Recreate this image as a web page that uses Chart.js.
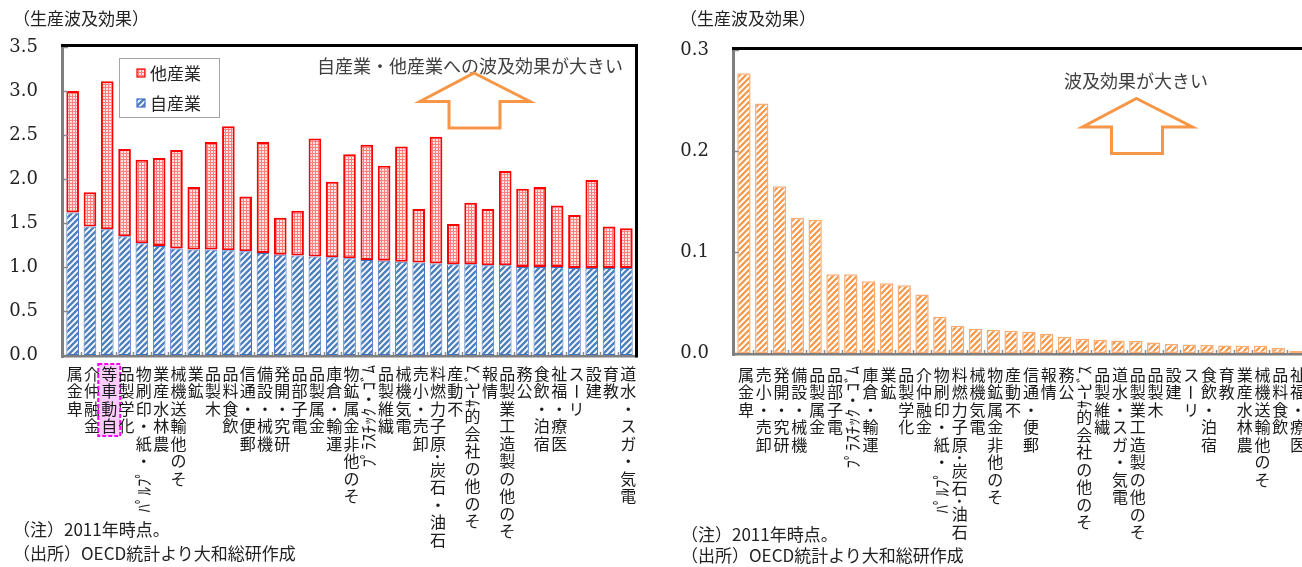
<!DOCTYPE html>
<html lang="ja">
<head>
<meta charset="utf-8">
<title>生産波及効果</title>
<script src="https://cdn.jsdelivr.net/npm/chart.js@4.4.1/dist/chart.umd.min.js"></script>
<style>
html,body{margin:0;padding:0;background:#fff;overflow:hidden;width:1302px;height:567px;}
.panel{position:absolute;top:0;height:567px;}
canvas{display:block;}
.txt{position:absolute;font-family:"Noto Sans CJK JP",sans-serif;font-size:17px;line-height:20px;color:#222;white-space:nowrap;}
</style>
</head>
<body>
<div class="panel" style="left:0;width:655px"><canvas id="cL" width="655" height="567"></canvas></div>
<div class="panel" style="left:662px;width:662px"><canvas id="cR" width="662" height="567"></canvas></div>

<div class="txt" style="left:13px;top:8px">（生産波及効果）</div>
<div class="txt" style="left:680px;top:8px">（生産波及効果）</div>
<div class="txt" style="left:13px;top:519px">（注）2011年時点。</div>
<div class="txt" style="left:13px;top:543px">（出所）OECD統計より大和総研作成</div>
<div class="txt" style="left:681px;top:524px">（注）2011年時点。</div>
<div class="txt" style="left:681px;top:545px">（出所）OECD統計より大和総研作成</div>

<script>
// ---- left panel: production spillover by sector (own industry / other industries) ----
const sectorsL = [
  '卑金属','金融仲介','自動車等','化学製品','ﾊﾟﾙﾌﾟ・紙・印刷物','農林水産業','その他輸送機械',
  '鉱業','木製品','飲食料品','郵便・通信','機械・設備','研究・開発','電子部品','金属製品',
  '運輸・倉庫','その他非金属鉱物','ﾌﾟﾗｽﾁｯｸ・ｺﾞﾑ','繊維製品','電気機械','卸売・小売',
  '石油・石炭･原子力燃料','不動産','その他の社会的ｻｰﾋﾞｽ','情報','その他の製造工業製品','公務',
  '宿泊・飲食','医療・福祉','リース','建設','教育','電気・ガス・水道'
];
const ownEffect = [
  1.62,1.46,1.43,1.35,1.27,1.24,1.21,1.20,1.20,1.19,1.18,1.16,1.14,1.13,1.12,1.11,1.10,
  1.08,1.07,1.06,1.05,1.04,1.03,1.03,1.02,1.02,1.00,1.00,1.00,0.99,0.99,0.99,0.99
];
const otherEffect = [
  1.38,0.39,1.68,0.99,0.95,1.00,1.12,0.71,1.22,1.41,0.62,1.26,0.42,0.51,1.34,0.86,1.18,
  1.31,1.08,1.31,0.61,1.44,0.46,0.70,0.64,1.07,0.89,0.91,0.70,0.60,1.00,0.47,0.45
];
const highlightedSector = '自動車等';

// ---- right panel: spillover onto the automobile industry ----
const sectorsR = [
  '卑金属','卸売・小売','研究・開発','機械・設備','金属製品','電子部品','ﾌﾟﾗｽﾁｯｸ・ｺﾞﾑ',
  '運輸・倉庫','鉱業','化学製品','金融仲介','ﾊﾟﾙﾌﾟ・紙・印刷物','石油･石炭･原子力燃料',
  '電気機械','その他非金属鉱物','不動産','郵便・通信','情報','公務','その他の社会的ｻｰﾋﾞｽ',
  '繊維製品','電気・ガス・水道','その他の製造工業製品','木製品','建設','リース','宿泊・飲食',
  '教育','農林水産業','その他輸送機械','飲食料品','医療・福祉'
];
const autoEffect = [
  0.277,0.247,0.165,0.134,0.132,0.078,0.078,0.071,0.069,0.067,0.058,0.036,0.027,0.024,
  0.023,0.022,0.021,0.019,0.016,0.014,0.013,0.0125,0.012,0.0105,0.009,0.0085,0.008,
  0.0075,0.0073,0.0072,0.005,0.002
];

const JP = '"Noto Sans CJK JP", sans-serif';

// fill patterns
function hatch(bg, fg, size, lw) {
  const c = document.createElement('canvas'); c.width = c.height = size;
  const g = c.getContext('2d');
  g.fillStyle = bg; g.fillRect(0, 0, size, size);
  g.strokeStyle = fg; g.lineWidth = lw; g.beginPath();
  g.moveTo(-1, size + 1); g.lineTo(size + 1, -1);
  g.moveTo(-1, 1); g.lineTo(1, -1);
  g.moveTo(size - 1, size + 1); g.lineTo(size + 1, size - 1);
  g.stroke();
  return g.createPattern(c, 'repeat');
}
function dotted(bg, fg) {
  const c = document.createElement('canvas'); c.width = c.height = 3;
  const g = c.getContext('2d');
  g.fillStyle = bg; g.fillRect(0, 0, 3, 3);
  g.fillStyle = fg; g.fillRect(1, 1, 2, 2);
  return g.createPattern(c, 'repeat');
}
const bluePat = hatch('#4F81BD', '#ffffff', 6, 1.8);
const redPat = dotted('#FF7F7F', '#ffe6e6');
const orangePat = hatch('#F79646', '#ffffff', 6, 2.0);

// split a label into full-width glyphs and half-width runs
function tokens(s) {
  const out = []; let run = '';
  for (const ch of s) {
    const c = ch.codePointAt(0);
    const hw = c < 0x2E80 || (c >= 0xFF61 && c <= 0xFF9F);
    if (hw) { run += ch; }
    else { if (run) { out.push({ s: run, hw: true }); run = ''; } out.push({ s: ch, hw: false }); }
  }
  if (run) out.push({ s: run, hw: true });
  return out;
}

// frame, inward tick marks, vertical category labels, legend and notes
const decor = {
  id: 'decor',
  afterDraw(chart, args, o) {
    const { ctx, chartArea: a } = chart;
    const xs = chart.scales.x, ys = chart.scales.y;
    ctx.save();

    // inward tick marks
    ctx.strokeStyle = '#8c8c8c'; ctx.lineWidth = 1.5; ctx.beginPath();
    ys.ticks.forEach(t => {
      const y = Math.round(ys.getPixelForValue(t.value)) + 0.5;
      ctx.moveTo(a.left, y); ctx.lineTo(a.left + 4, y);
    });
    const n = chart.data.labels.length;
    for (let i = 1; i < n; i++) {
      const x = Math.round((xs.getPixelForTick(i - 1) + xs.getPixelForTick(i)) / 2) + 0.5;
      ctx.moveTo(x, a.bottom); ctx.lineTo(x, a.bottom - 3);
    }
    ctx.stroke();

    // plot frame: grey left/bottom, black top/right
    ctx.fillStyle = '#7f7f7f';
    ctx.fillRect(a.left - 3, a.top - 1, 3, a.bottom - a.top + 4);
    ctx.fillRect(a.left - 3, a.bottom, a.right - a.left + 4, 2.5);
    ctx.fillStyle = '#000';
    ctx.fillRect(a.left - 3, a.top - 3, a.right - a.left + 6, 3);
    ctx.fillRect(a.right, a.top - 3, 3, a.bottom - a.top + 5.5);

    // vertical category labels (upright CJK, rotated half-width runs)
    const fw = '16px ' + JP, hwf = '17px ' + JP, pitch = 17.5;
    ctx.fillStyle = '#1a1a1a';
    ctx.textAlign = 'center'; ctx.textBaseline = 'middle';
    chart.data.labels.forEach((lab, i) => {
      const x = xs.getPixelForTick(i) + 2;
      const toks = tokens(lab).reverse();
      ctx.font = hwf;
      const lens = toks.map(t => t.hw ? ctx.measureText(t.s).width : pitch);
      if (lab === o.highlight) {
        const total = lens.reduce((p, q) => p + q, 0);
        ctx.save();
        ctx.fillStyle = 'rgba(255,0,255,0.2)';
        ctx.fillRect(x - 11, o.labelTop - 1, 22, total + 2);
        ctx.strokeStyle = '#FF00FF'; ctx.lineWidth = 2; ctx.setLineDash([4, 2]);
        ctx.strokeRect(x - 11, o.labelTop - 1, 22, total + 2);
        ctx.restore();
        ctx.textAlign = 'center'; ctx.textBaseline = 'middle';
      }
      let y = o.labelTop;
      toks.forEach((t, k) => {
        const len = lens[k];
        if (t.hw || t.s === 'ー') {
          ctx.font = t.hw ? hwf : fw;
          ctx.save(); ctx.translate(x, y + len / 2); ctx.rotate(-Math.PI / 2);
          ctx.fillText(t.s, 0, 0); ctx.restore();
        } else {
          ctx.font = fw; ctx.fillText(t.s, x, y + len / 2);
        }
        y += len;
      });
    });

    // legend box
    if (o.legend) {
      const L = o.legend;
      ctx.fillStyle = '#fff'; ctx.fillRect(L.x, L.y, L.w, L.h);
      ctx.strokeStyle = '#a6a6a6'; ctx.lineWidth = 1;
      ctx.strokeRect(L.x + 0.5, L.y + 0.5, L.w, L.h);
      ctx.font = '17px ' + JP; ctx.textAlign = 'left'; ctx.textBaseline = 'middle';
      L.rows.forEach(r => {
        const ds = chart.data.datasets[r.ds];
        ctx.fillStyle = ds.backgroundColor;
        ctx.fillRect(L.x + 18, r.y - 4, 8, 8);
        ctx.strokeStyle = ds.borderColor; ctx.lineWidth = 1.2;
        ctx.strokeRect(L.x + 18, r.y - 4, 8, 8);
        ctx.fillStyle = '#262626';
        ctx.fillText(ds.label, L.x + 31, r.y + 1);
      });
    }

    // note text with hollow up arrow
    if (o.note) {
      const N = o.note;
      ctx.font = '18px ' + JP; ctx.fillStyle = '#404040';
      ctx.textAlign = 'center'; ctx.textBaseline = 'middle';
      ctx.fillText(N.text, N.tx, N.ty);
      ctx.beginPath();
      N.arrow.forEach((p, k) => k ? ctx.lineTo(p[0], p[1]) : ctx.moveTo(p[0], p[1]));
      ctx.closePath();
      ctx.fillStyle = '#fff'; ctx.fill();
      ctx.strokeStyle = '#F79646'; ctx.lineWidth = 3; ctx.lineJoin = 'miter'; ctx.stroke();
    }
    ctx.restore();
  }
};

function arrowAt(tipX, tipY) {
  return [[tipX, tipY], [tipX + 56, tipY + 28.5], [tipX + 26, tipY + 28.5], [tipX + 26, tipY + 55],
          [tipX - 25, tipY + 55], [tipX - 25, tipY + 28.5], [tipX - 54, tipY + 28.5]];
}

const yFont = { family: 'DejaVu Serif', size: 18 };

new Chart(document.getElementById('cL'), {
  type: 'bar',
  data: {
    labels: sectorsL,
    datasets: [
      { label: '自産業', data: ownEffect, backgroundColor: bluePat, borderColor: '#4472C4',
        borderWidth: 1, borderSkipped: false },
      { label: '他産業', data: otherEffect, backgroundColor: redPat, borderColor: '#FF0000',
        borderWidth: 2, borderSkipped: false }
    ]
  },
  options: {
    responsive: false, animation: false,
    layout: { padding: { left: 0, top: 47, right: 20, bottom: 0 } },
    datasets: { bar: { barPercentage: 0.73, categoryPercentage: 1 } },
    plugins: {
      legend: { display: false }, tooltip: { enabled: false },
      decor: {
        labelTop: 365, highlight: highlightedSector,
        legend: { x: 119, y: 58, w: 100, h: 59, rows: [{ ds: 1, y: 73 }, { ds: 0, y: 103 }] },
        note: { text: '自産業・他産業への波及効果が大きい', tx: 470, ty: 66, arrow: arrowAt(474, 73) }
      }
    },
    scales: {
      x: { stacked: true, grid: { display: false, drawTicks: false }, border: { display: false },
           ticks: { display: false }, afterFit(s) { s.height = 212; } },
      y: { stacked: true, min: 0, max: 3.5,
           grid: { display: false, drawTicks: false }, border: { display: false },
           ticks: { stepSize: 0.5, padding: 26, font: yFont, color: '#222', callback: v => v.toFixed(1) },
           afterFit(s) { s.width = 64; } }
    }
  },
  plugins: [decor]
});

new Chart(document.getElementById('cR'), {
  type: 'bar',
  data: {
    labels: sectorsR,
    datasets: [
      { label: '自動車産業への波及効果', data: autoEffect, backgroundColor: orangePat,
        borderColor: '#F9AD75', borderWidth: 1.5, borderSkipped: false }
    ]
  },
  options: {
    responsive: false, animation: false,
    layout: { padding: { left: 0, top: 50, right: 19, bottom: 0 } },
    datasets: { bar: { barPercentage: 0.75, categoryPercentage: 1 } },
    plugins: {
      legend: { display: false }, tooltip: { enabled: false },
      decor: {
        labelTop: 366,
        note: { text: '波及効果が大きい', tx: 474, ty: 81, arrow: arrowAt(474.5, 98.5) }
      }
    },
    scales: {
      x: { grid: { display: false, drawTicks: false }, border: { display: false },
           ticks: { display: false }, afterFit(s) { s.height = 214; } },
      y: { min: 0, max: 0.3,
           grid: { display: false, drawTicks: false }, border: { display: false },
           ticks: { stepSize: 0.1, padding: 26, font: yFont, color: '#222', callback: v => v.toFixed(1) },
           afterFit(s) { s.width = 73; } }
    }
  },
  plugins: [decor]
});
</script>
</body>
</html>
